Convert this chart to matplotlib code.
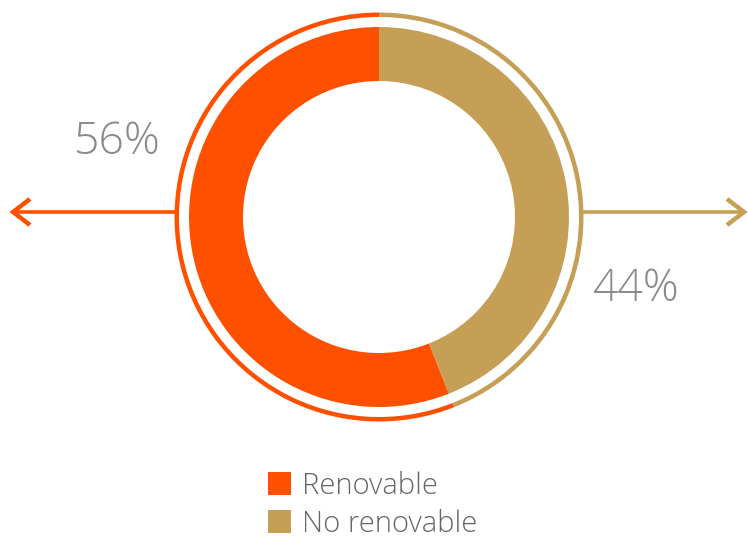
import matplotlib
matplotlib.use("Agg")
import matplotlib.pyplot as plt
from matplotlib.patches import Patch

# data
categories = ["Renovable", "No renovable"]
shares = [56, 44]
share_labels = ["56%", "44%"]
colors = ["#FF5000", "#C49F55"]

W, H = 748, 541
fig = plt.figure(figsize=(W / 100, H / 100), dpi=100)
ax = fig.add_axes([0, 0, 1, 1])

cx, cy = 379, H - 217

# main donut
ax.pie(shares, colors=colors, startangle=90, counterclock=True, center=(cx, cy),
       radius=190, wedgeprops=dict(width=54, linewidth=0))
# thin outer ring
ax.pie(shares, colors=colors, startangle=90, counterclock=True, center=(cx, cy),
       radius=204.5, wedgeprops=dict(width=4.5, linewidth=0))

# arrows to the sides
ay = H - 212
ax.plot([175, 13], [ay, ay], color=colors[0], lw=2.6, solid_capstyle="butt")
ax.plot([30, 13, 30], [ay + 13, ay, ay - 13], color=colors[0], lw=3.2,
        solid_joinstyle="miter", solid_capstyle="butt")
ax.plot([583, 744], [ay, ay], color=colors[1], lw=2.6, solid_capstyle="butt")
ax.plot([727, 744, 727], [ay + 13, ay, ay - 13], color=colors[1], lw=3.2,
        solid_joinstyle="miter", solid_capstyle="butt")

# percentage labels
txt = dict(color="#8A8A8A", fontsize=32, family="Open Sans", fontweight="light",
           ha="center", va="center")
ax.text(117, H - 143, share_labels[0], **txt)
ax.text(635, H - 290, share_labels[1], **txt)

handles = [Patch(facecolor=c, edgecolor="none") for c in colors]
ax.legend(handles, categories, loc="upper left", bbox_to_anchor=(268, H - 471),
          bbox_transform=ax.transData, frameon=False, borderpad=0, borderaxespad=0,
          handlelength=0.8, handleheight=0.8, handletextpad=0.35, labelspacing=0.3,
          prop=dict(family="Open Sans", weight="light", size=21), labelcolor="#666666")

ax.set_xlim(0, W)
ax.set_ylim(0, H)
ax.set_aspect("equal")
ax.axis("off")

fig.savefig("out.png", dpi=100)
